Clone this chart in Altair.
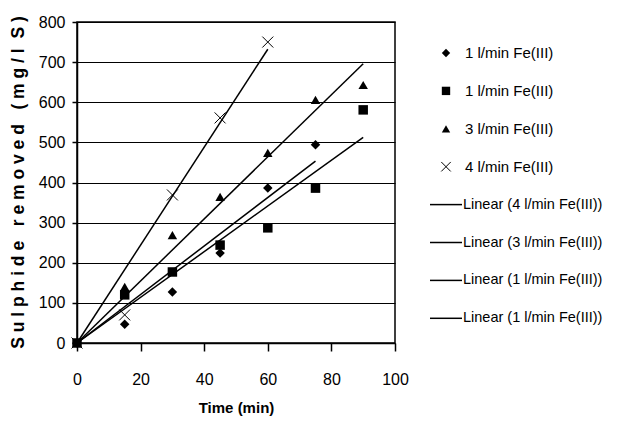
import altair as alt
import numpy as np
import pandas as pd

# ---- data ----
series_names = ["1 l/min Fe(III) a", "1 l/min Fe(III) b", "3 l/min Fe(III)", "4 l/min Fe(III)"]
legend_point_labels = ["1 l/min Fe(III)", "1 l/min Fe(III)", "3 l/min Fe(III)", "4 l/min Fe(III)"]
legend_line_labels = ["Linear (4 l/min Fe(III))", "Linear (3 l/min Fe(III))",
                      "Linear (1 l/min Fe(III))", "Linear (1 l/min Fe(III))"]

time_a = [0, 15, 30, 45, 60, 75]
vals_a = [0, 47, 127, 224, 386, 494]          # diamonds
time_b = [0, 15, 30, 45, 60, 75, 90]
vals_b = [0, 120, 177, 244, 287, 386, 581]    # squares
time_c = [0, 15, 30, 45, 60, 75, 90]
vals_c = [0, 140, 269, 364, 474, 606, 643]    # triangles
time_d = [0, 15, 30, 45, 60]
vals_d = [0, 70, 369, 561, 750]               # crosses

x_ticks = [0, 20, 40, 60, 80, 100]
y_ticks = [0, 100, 200, 300, 400, 500, 600, 700, 800]

times = [time_a, time_b, time_c, time_d]
vals = [vals_a, vals_b, vals_c, vals_d]

rows = []
for name, t, v in zip(series_names, times, vals):
    for ti, vi in zip(t, v):
        rows.append({"series": name, "time": ti, "value": vi})
pts = pd.DataFrame(rows)

# linear trend lines (through origin, as in the spreadsheet trendlines)
lrows = []
for name, t, v in zip(series_names, times, vals):
    t_ = np.array(t, float); v_ = np.array(v, float)
    slope = (t_ * v_).sum() / (t_ * t_).sum()
    for ti in (0.0, t_.max()):
        lrows.append({"series": name, "time": ti, "value": slope * ti})
lines = pd.DataFrame(lrows)

X_PATH = "M-1,-1L1,1M-1,1L1,-1"
shape_range = ["diamond", "square", "triangle-up", X_PATH]

FONT = "Liberation Sans, Arial, sans-serif"

NB = "\u00a0"
y_title = " ".join(list("Sulphide")) + NB * 3 + " ".join(list("removed")) + NB * 3 + \
    " ".join(list("(mg/l")) + NB * 2 + "S )"

x_enc = alt.X("time:Q", scale=alt.Scale(domain=[0, 100], nice=False),
              axis=alt.Axis(values=x_ticks, title="Time (min)", grid=False,
                            tickSize=8, labelPadding=20, labelFlush=False,
                            titleX=159, titleY=64, titleBaseline="middle"))
y_enc = alt.Y("value:Q", scale=alt.Scale(domain=[0, 800], nice=False),
              axis=alt.Axis(values=y_ticks, grid=True, tickSize=5, labelPadding=7,
                            labelFlush=False, title=y_title,
                            titleX=-59, titleY=160, titleAngle=270,
                            titleBaseline="middle"))

line_layer = alt.Chart(lines).mark_line(color="black", strokeWidth=1.5).encode(
    x=x_enc, y=y_enc, detail="series:N")

filled_pts = alt.Chart(pts).transform_filter(
    alt.datum.series != series_names[3]).mark_point(
    filled=True, color="black", size=90, opacity=1).encode(
    x="time:Q", y="value:Q",
    shape=alt.Shape("series:N", scale=alt.Scale(domain=series_names, range=shape_range), legend=None))

cross_pts = alt.Chart(pts).transform_filter(
    alt.datum.series == series_names[3]).mark_point(
    filled=False, color="black", size=120, strokeWidth=1, shape=X_PATH, opacity=1).encode(
    x="time:Q", y="value:Q")

layers = [line_layer, filled_pts, cross_pts]

# manual legend
leg_y0 = 31
leg_dy = 37.9
blank = alt.Data(values=[{"a": 1}])
for i, lab in enumerate(legend_point_labels):
    yy = leg_y0 + i * leg_dy
    if i < 3:
        mk = alt.Chart(blank).mark_point(filled=True, color="black", size=70,
                                         shape=shape_range[i], opacity=1)
    else:
        mk = alt.Chart(blank).mark_point(filled=False, color="black", size=90,
                                         shape=X_PATH, strokeWidth=1, opacity=1)
    layers.append(mk.encode(x=alt.value(369), y=alt.value(yy)))
    layers.append(alt.Chart(blank).mark_text(text=lab, align="left", baseline="middle",
                                             font=FONT, fontSize=15, color="black")
                  .encode(x=alt.value(388), y=alt.value(yy)))
for j, lab in enumerate(legend_line_labels):
    yy = leg_y0 + (j + 4) * leg_dy
    layers.append(alt.Chart(blank).mark_rule(color="black", strokeWidth=1.5)
                  .encode(x=alt.value(353), x2=alt.value(385), y=alt.value(yy)))
    layers.append(alt.Chart(blank).mark_text(text=lab, align="left", baseline="middle",
                                             font=FONT, fontSize=14.5, color="black")
                  .encode(x=alt.value(386), y=alt.value(yy)))

chart = alt.layer(*layers).properties(
    width=318, height=321,
    autosize=alt.AutoSizeParams(type="none"),
    padding={"left": 69, "top": 14, "right": 220, "bottom": 80},
    background="white",
).configure_view(stroke="black", strokeWidth=1.5).configure_axis(
    domainColor="black", domainWidth=1.5, tickColor="black", tickWidth=1.5,
    gridColor="black", gridOpacity=1, gridWidth=1.2,
    labelFont=FONT, labelFontSize=16, labelColor="black",
    titleFont=FONT, titleFontWeight="bold", titleColor="black",
).configure_axisX(titleFontSize=15).configure_axisY(titleFontSize=17.5)

chart.save("out.html", embed_options={"renderer": "svg", "actions": False})
